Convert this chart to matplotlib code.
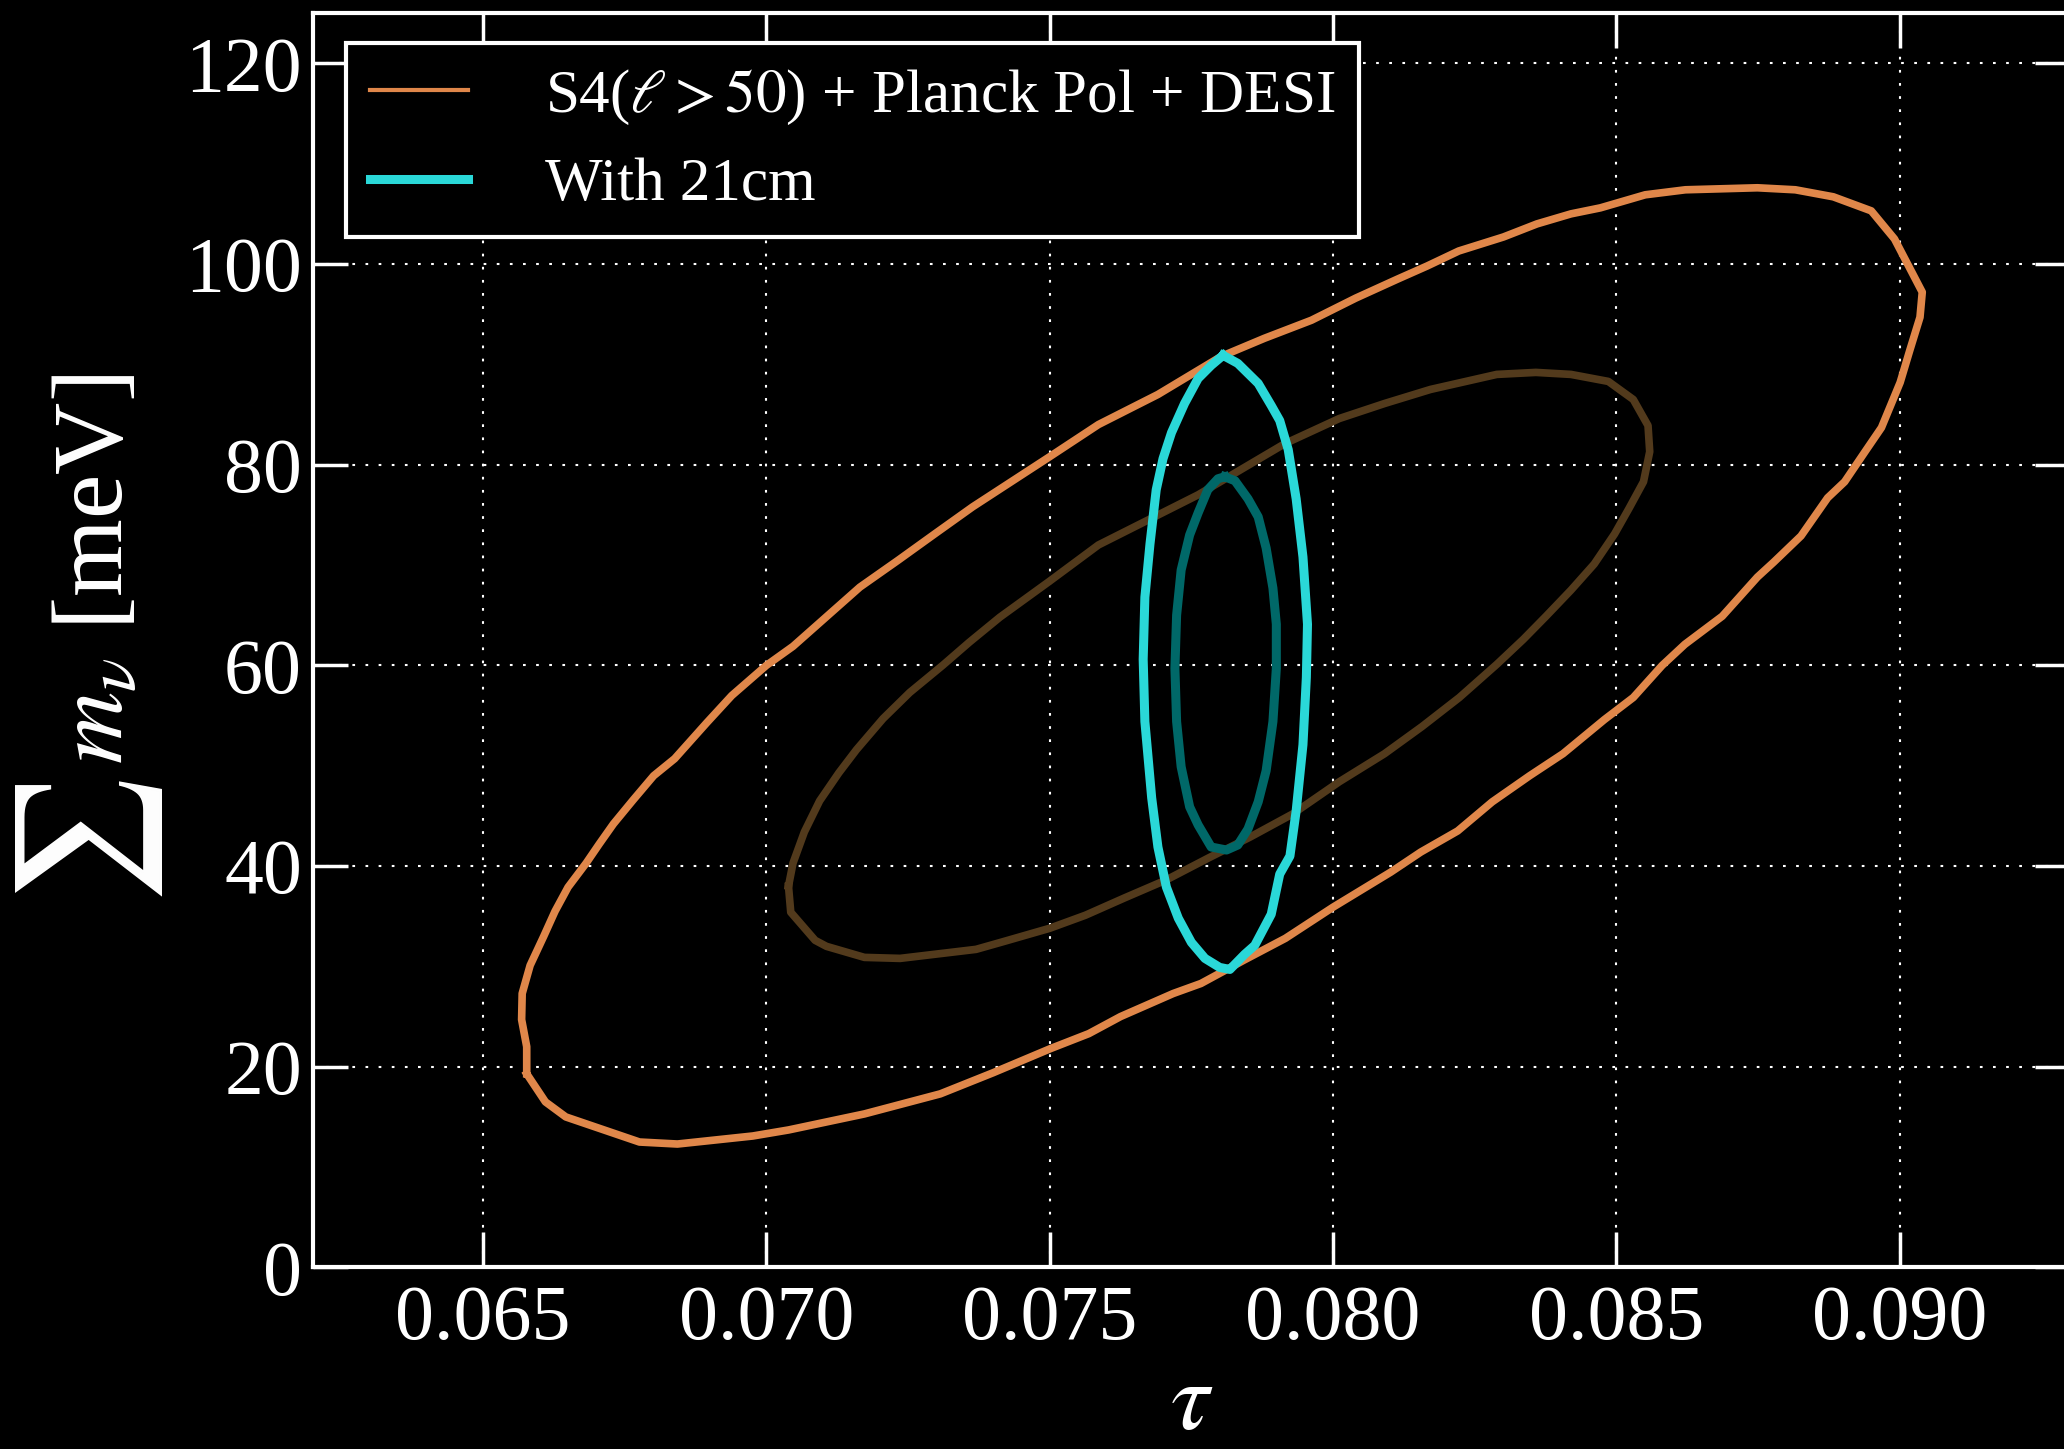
import matplotlib
matplotlib.use('Agg')
import matplotlib.pyplot as plt
from matplotlib.lines import Line2D

plt.rcParams['font.family'] = ['Liberation Serif', 'DejaVu Serif']
plt.rcParams['mathtext.fontset'] = 'stix'

# S4(l>50) + Planck Pol + DESI, outer contour
s4_outer_tau = [0.06577, 0.06610, 0.06646, 0.06776, 0.06843, 0.06976, 0.07039, 0.07173,
                0.07307, 0.07400, 0.07501, 0.07569, 0.07625, 0.07718, 0.07767, 0.07842,
                0.07916, 0.08000, 0.08102, 0.08155, 0.08220, 0.08281, 0.08347, 0.08406,
                0.08479, 0.08530, 0.08581, 0.08621, 0.08687, 0.08749, 0.08778, 0.08826,
                0.08873, 0.08903, 0.08939, 0.08968, 0.09001, 0.09018, 0.09036, 0.09040,
                0.08991, 0.08950, 0.08883, 0.08816, 0.08749, 0.08622, 0.08551, 0.08472,
                0.08420, 0.08360, 0.08301, 0.08222, 0.08166, 0.08114, 0.08040, 0.07962,
                0.07879, 0.07803, 0.07691, 0.07586, 0.07500, 0.07432, 0.07364, 0.07297,
                0.07233, 0.07165, 0.07101, 0.07047, 0.07000, 0.06939, 0.06895, 0.06838,
                0.06801, 0.06765, 0.06730, 0.06705, 0.06682, 0.06650, 0.06627, 0.06607,
                0.06583, 0.06569, 0.06568, 0.06577]
s4_outer_mnu = [19.3, 16.5, 15.0, 12.5, 12.3, 13.1, 13.7, 15.3,
                17.3, 19.4, 21.8, 23.3, 25.0, 27.3, 28.3, 30.6,
                32.8, 35.9, 39.4, 41.4, 43.5, 46.4, 49.0, 51.2,
                54.6, 56.8, 60.0, 62.1, 64.9, 68.8, 70.3, 72.9,
                76.7, 78.3, 81.3, 83.7, 88.2, 91.4, 94.7, 97.2,
                102.5, 105.3, 106.7, 107.4, 107.6, 107.4, 106.9, 105.6,
                105.0, 104.0, 102.7, 101.3, 99.8, 98.5, 96.6, 94.4,
                92.6, 90.8, 87.0, 84.0, 80.8, 78.3, 75.8, 73.1,
                70.5, 67.8, 64.6, 61.9, 60.0, 57.0, 54.3, 50.7,
                49.0, 46.6, 44.2, 42.2, 40.3, 37.9, 35.5, 33.0,
                30.1, 27.3, 24.7, 22.0]

# S4(l>50) + Planck Pol + DESI, inner contour
s4_inner_tau = [0.07039, 0.07047, 0.07067, 0.07094, 0.07128, 0.07159, 0.07206, 0.07253,
                0.07311, 0.07358, 0.07412, 0.07500, 0.07586, 0.07762, 0.07915, 0.08011,
                0.08091, 0.08172, 0.08289, 0.08358, 0.08420, 0.08486, 0.08530, 0.08556,
                0.08559, 0.08548, 0.08523, 0.08497, 0.08461, 0.08420, 0.08376, 0.08336,
                0.08289, 0.08223, 0.08157, 0.08091, 0.08011, 0.07929, 0.07854, 0.07780,
                0.07705, 0.07631, 0.07563, 0.07500, 0.07420, 0.07370, 0.07236, 0.07173,
                0.07106, 0.07086, 0.07043]
s4_inner_mnu = [38.0, 40.3, 43.4, 46.5, 49.3, 51.6, 54.7, 57.3,
                60.0, 62.3, 64.8, 68.4, 72.0, 77.0, 82.1, 84.6,
                86.1, 87.5, 89.0, 89.2, 89.0, 88.3, 86.5, 83.9,
                81.3, 78.3, 75.7, 73.1, 70.1, 67.5, 64.9, 62.6,
                60.1, 56.8, 53.9, 51.2, 48.4, 45.2, 42.9, 40.8,
                38.6, 36.8, 35.1, 33.8, 32.5, 31.7, 30.8, 30.9,
                32.0, 32.6, 35.4]

# With 21cm, outer contour
cm21_outer_tau = [0.07806, 0.07832, 0.07868, 0.07891, 0.07906, 0.07921, 0.07935, 0.07947,
                  0.07955, 0.07953, 0.07947, 0.07935, 0.07924, 0.07906, 0.07891, 0.07862,
                  0.07844, 0.07818, 0.07800, 0.07774, 0.07750, 0.07727, 0.07706, 0.07691,
                  0.07680, 0.07668, 0.07665, 0.07668, 0.07677, 0.07688, 0.07700, 0.07715,
                  0.07738, 0.07762, 0.07785]
cm21_outer_mnu = [90.9, 90.1, 88.1, 85.9, 84.4, 81.5, 76.6, 70.8,
                  64.1, 58.8, 52.1, 45.5, 41.0, 39.2, 35.2, 32.1,
                  31.2, 29.7, 29.9, 30.8, 32.4, 34.8, 37.9, 41.9,
                  46.8, 54.4, 60.6, 66.8, 72.1, 77.5, 80.6, 83.2,
                  86.1, 88.6, 89.9]

# With 21cm, inner contour
cm21_inner_tau = [0.07809, 0.07827, 0.07850, 0.07868, 0.07882, 0.07894, 0.07900, 0.07900,
                  0.07894, 0.07882, 0.07868, 0.07850, 0.07832, 0.07812, 0.07785, 0.07762,
                  0.07747, 0.07732, 0.07724, 0.07721, 0.07724, 0.07732, 0.07747, 0.07762,
                  0.07779, 0.07797]
cm21_inner_mnu = [78.8, 78.4, 76.6, 74.8, 71.7, 67.7, 64.1, 59.7,
                  54.4, 49.5, 46.4, 43.7, 42.1, 41.6, 41.9, 44.1,
                  45.9, 49.9, 54.4, 59.7, 65.0, 69.5, 73.0, 75.2,
                  77.5, 78.6]

labels = [r'S4($\ell>50$) + Planck Pol + DESI', 'With 21cm']
x_ticks = [0.065, 0.070, 0.075, 0.080, 0.085, 0.090]
y_ticks = [0, 20, 40, 60, 80, 100, 120]

ORANGE = '#e0874a'
BROWN = '#523a1c'
CYAN = '#2ad8d8'
TEAL = '#006868'


def closed(xs, ys):
    return list(xs) + [xs[0]], list(ys) + [ys[0]]


fig = plt.figure(figsize=(20.64, 14.49), dpi=100, facecolor='black')
ax = fig.add_axes([0.1517, 0.1253, 0.851, 0.8656], facecolor='black')

ax.plot(*closed(s4_inner_tau, s4_inner_mnu), color=BROWN, lw=5.5, zorder=3)
ax.plot(*closed(s4_outer_tau, s4_outer_mnu), color=ORANGE, lw=5.5, zorder=3)
ax.plot(*closed(cm21_inner_tau, cm21_inner_mnu), color=TEAL, lw=6.5, zorder=4)
ax.plot(*closed(cm21_outer_tau, cm21_outer_mnu), color=CYAN, lw=6.5, zorder=4)

ax.set_xlim(0.062, 0.093)
ax.set_ylim(0, 125)
ax.set_xticks(x_ticks)
ax.set_xticklabels(['%.3f' % t for t in x_ticks])
ax.set_yticks(y_ticks)

for side in ax.spines.values():
    side.set_color('white')
    side.set_linewidth(3)
ax.tick_params(which='both', direction='in', length=25, width=2.5, colors='white',
               labelsize=56, top=True, right=True, pad=8)
ax.tick_params(axis='x', pad=12)
ax.grid(True, color='white', linestyle=(0, (1.3, 5)), linewidth=1.5)

ax.set_xlabel(r'$\tau$', fontsize=70, color='white', labelpad=4)

# y label: large summation sign followed by m_nu [meV]
fig.text(74 / 1568, 1 - 432 / 1101, r'$m_\nu$ [meV]', fontsize=72, color='white',
         rotation=90, ha='center', va='center')
fig.text(68 / 1568, 1 - 640 / 1101, r'$\sum$', fontsize=104, color='white',
         rotation=90, ha='center', va='center')

handles = [Line2D([], [], color=ORANGE, lw=3),
           Line2D([], [], color=CYAN, lw=6.5)]
leg = ax.legend(handles, labels, loc='upper left', fontsize=44,
                bbox_to_anchor=(346 / 2064, 1 - 43 / 1449), bbox_transform=fig.transFigure,
                borderaxespad=0, fancybox=False, framealpha=1,
                handlelength=1.6, handletextpad=1.25, labelspacing=0.5, borderpad=0.4)
leg.get_frame().set_facecolor('black')
leg.get_frame().set_edgecolor('white')
leg.get_frame().set_linewidth(3)
for txt in leg.get_texts():
    txt.set_color('white')

fig.savefig('out.png', dpi=100, facecolor='black')
